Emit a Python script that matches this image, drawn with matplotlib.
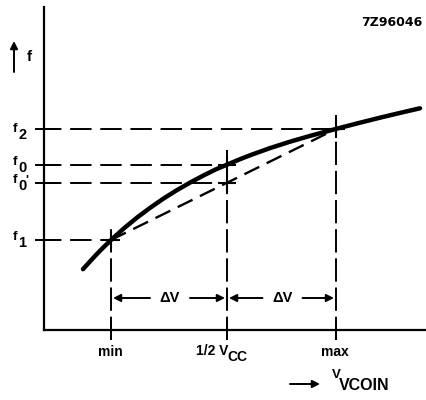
import matplotlib
matplotlib.use("Agg")
import matplotlib.pyplot as plt

# schematic units: x = control voltage, y = frequency (arbitrary)
v_points = [67, 183, 292]          # min, 1/2 Vcc, max
v_labels = ["min", "1/2 V", "max"]
f_points = [90, 147, 165, 201]     # f1, f0', f0, f2
f_names = ["1", "0", "0", "2"]

# VCO characteristic
curve_v = [39, 46, 53, 60, 67, 80, 93, 106, 119, 132, 146, 160, 172, 183,
           195, 206, 226, 246, 266, 292, 314, 336, 356, 376]
curve_f = [60.8, 68.6, 76.1, 83.2, 90, 101.7, 112.4, 122.1, 131.1, 139.3, 147.4, 154.8, 160.7, 165.3,
           170.4, 174.7, 181.9, 188.3, 194.1, 201.1, 206.8, 212.3, 217.1, 221.7]

# linear approximation through the min / max points
chord_v = [67, 292]
chord_f = [90, 201]

plt.rcParams['font.family'] = ['Liberation Sans', 'DejaVu Sans']
plt.rcParams['font.weight'] = 'bold'

fig = plt.figure(figsize=(4.27, 4.0), dpi=100)
ax = fig.add_axes([44 / 427, 70 / 400, 381 / 427, 323 / 400])
ax.set_xlim(0, 381)
ax.set_ylim(0, 323)
for s in ["top", "right"]:
    ax.spines[s].set_visible(False)
for s in ["left", "bottom"]:
    ax.spines[s].set_linewidth(1.6)
ax.set_xticks([])
ax.set_yticks([])

dash = dict(color="black", lw=1.4, dashes=(11, 4.5), clip_on=False)

# horizontal guides (f levels), end points where they meet the curve
h_end = [75, 190, 190, 300]
for f, e in zip(f_points, h_end):
    ax.plot([-4, e], [f, f], **dash)
    ax.plot([-8, 13], [f, f], color="black", lw=1.4, clip_on=False)

# vertical guides (voltages)
v_top = [105, 180, 215]
for v, t in zip(v_points, v_top):
    ax.plot([v, v], [-10, t], color="black", lw=1.4, dashes=(12, 3), clip_on=False)
    ax.plot([v, v], [-9, 8], color="black", lw=1.4, clip_on=False)

# curve and chord
ax.plot(curve_v, curve_f, color="black", lw=3.2, solid_capstyle="round",
        solid_joinstyle="round", clip_on=False)
ax.plot(chord_v, chord_f, color="black", lw=1.7, dashes=(7, 3.5))

# crosses at the intersections
ax.plot([v_points[0], v_points[1], v_points[1], v_points[2]],
        [f_points[0], f_points[1], f_points[2], f_points[3]],
        ls="none", marker="+", ms=13, mew=1.5, color="black")

# delta V arrows
arr = dict(arrowstyle="-|>", color="black", lw=1.4, mutation_scale=11, shrinkA=0, shrinkB=0)
y_arr = 32
for a, b in [(v_points[0], v_points[1]), (v_points[1], v_points[2])]:
    mid = (a + b) / 2 + 2
    ax.annotate("", xy=(a + 2, y_arr), xytext=(mid - 21, y_arr), arrowprops=arr)
    ax.annotate("", xy=(b - 2, y_arr), xytext=(mid + 19, y_arr), arrowprops=arr)
    ax.text(mid - 1, y_arr, "\u0394V", ha="center", va="center", fontsize=10.5)

# f labels on the y axis
f_lab_y = [240, 183, 165, 132]
for f, n, py in zip(f_points, f_names, f_lab_y):
    y = 330 - py
    ax.text(-29, y + 3, "f", ha="center", va="center", fontsize=9.5, clip_on=False)
    ax.text(-21.5, y - 3, n, ha="center", va="center", fontsize=10.5, clip_on=False)
ax.text(-17, 330 - 181, "'", ha="center", va="center", fontsize=9, clip_on=False)

# x labels
ax.text(v_points[0] - 1, -22, v_labels[0], ha="center", va="center", fontsize=10, clip_on=False)
ax.text(v_points[1] + 1, -21, v_labels[1], ha="right", va="center", fontsize=10, clip_on=False)
ax.text(v_points[1], -27, "CC", ha="left", va="center", fontsize=10, clip_on=False)
ax.text(v_points[2] - 1, -22, v_labels[2], ha="center", va="center", fontsize=10, clip_on=False)

# axis names
ax.annotate("", xy=(276, -54), xytext=(246, -54), arrowprops=arr, annotation_clip=False)
ax.text(292, -45, "V", ha="center", va="center", fontsize=9.5, clip_on=False)
ax.text(295, -55, "VCOIN", ha="left", va="center", fontsize=11.5, clip_on=False)

ax.annotate("", xy=(-30, 289), xytext=(-30, 258), arrowprops=arr, annotation_clip=False)
ax.text(-15, 273, "f", ha="center", va="center", fontsize=11, clip_on=False)

ax.text(378, 307, "7Z96046", ha="right", va="center", fontsize=9, fontweight="bold",
        family="DejaVu Sans")

fig.savefig("out.png", dpi=100)
